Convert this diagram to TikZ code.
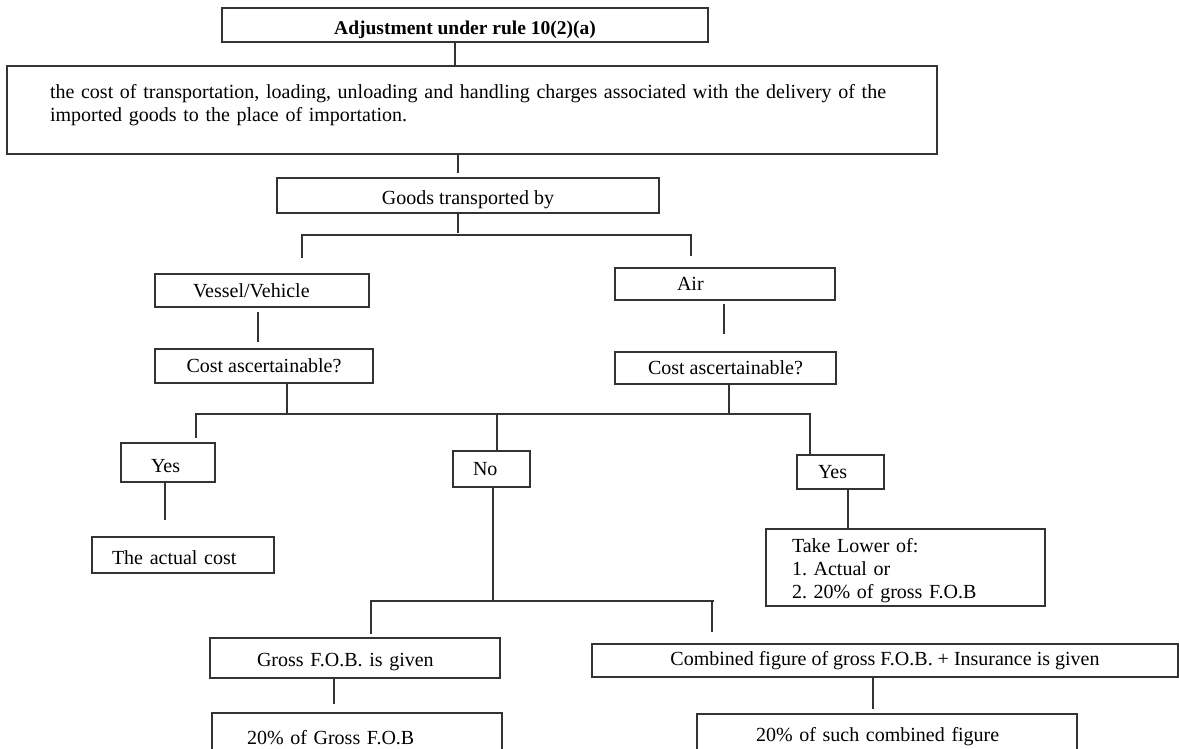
\documentclass[tikz,border=0pt]{standalone}
\usepackage{fontspec}
\setmainfont{Liberation Serif}
\usetikzlibrary{calc}
\frenchspacing

\begin{document}
\begin{tikzpicture}[x=1pt,y=-1pt,
    box/.style={draw=black!80,line width=1.5pt,inner ysep=0pt,font=\fontsize{20}{23}\selectfont},
    lbox/.style={box,align=left},
    wire/.style={draw=black!80,line width=1.5pt}]
    \clip (0,0) rectangle (1179,749);

    % top of the chart
    \node[box,minimum width=486,minimum height=34,text height=24pt,font=\fontsize{19.5}{23}\selectfont\bfseries] (title) at (465,25) {Adjustment under rule 10(2)(a)};
    \node[lbox,inner xsep=43pt,text width=844pt,minimum height=88] (desc) at (472,110)
        {\mbox{the cost of transportation, loading, unloading and handling charges associated with the delivery of the}\\
         imported goods to the place of importation.\par\kern10pt};
    \node[box,minimum width=382,minimum height=35,text height=21.5pt] (goods) at (468,195.5) {Goods transported by};

    % two ways of transport
    \node[lbox,inner xsep=38pt,text width=138pt,minimum height=33] (vessel) at (262,290.5) {Vessel/Vehicle};
    \node[box,minimum width=218,minimum height=34] (costv) at (264,366) {Cost ascertainable?};
    \node[lbox,inner xsep=62pt,text width=96pt,minimum height=32] (air) at (725,284) {Air};
    \node[box,minimum width=221,minimum height=32] (costa) at (725.5,368) {Cost ascertainable?};

    % answers
    \node[lbox,inner xsep=30pt,text width=34pt,minimum height=39,text height=19.5pt] (yesv) at (168,462.5) {Yes};
    \node[lbox,inner xsep=20pt,text width=37pt,minimum height=36] (no) at (491.5,469) {No};
    \node[lbox,inner xsep=21pt,text width=45pt,minimum height=34] (yesa) at (840.5,472) {Yes};
    \node[lbox,inner xsep=20pt,text width=142pt,minimum height=36,text height=19.5pt] (actual) at (183,555) {The actual cost};
    \node[lbox,inner xsep=26pt,text width=227pt,minimum height=77,text height=19.5pt] (lower) at (905.5,567.5)
        {Take Lower of:\\ 1. Actual or\\ 2. 20\% of gross F.O.B};

    % when cost is not known
    \node[lbox,inner xsep=47pt,text width=196pt,minimum height=40,text height=21.5pt] (gross) at (355,658) {Gross F.O.B. is given};
    \node[lbox,inner xsep=35pt,text width=220pt,minimum height=50] (grossp) at (357,738) {20\% of Gross F.O.B};
    \node[box,minimum width=586,minimum height=33] (comb) at (885,660.5) {Combined figure of gross F.O.B. + Insurance is given};
    \node[lbox,inner xsep=59pt,text width=262pt,minimum height=46] (combp) at (887,737) {20\% of such combined figure};

    % bus lines
    \coordinate (busa) at (458,235);
    \coordinate (busal) at (302,258);
    \coordinate (busar) at (691,256);
    \coordinate (busb) at (287,414);
    \coordinate (busbl) at (196,438);
    \coordinate (busbr) at (810,414);
    \coordinate (busc) at (493,601);
    \coordinate (buscl) at (371,634);
    \coordinate (buscr) at (712,632);

    \draw[wire] ([xshift=-10pt]title.south) -- ([xshift=-10pt]title.south |- desc.north);
    \draw[wire,shorten >=4pt] ([xshift=-14pt]desc.south) -- ([xshift=-14pt]desc.south |- goods.north);
    \draw[wire] (goods.south -| busa) -- ([yshift=2pt]busa);
    \draw[wire] (busal) -- (busal |- busa) -- (busar |- busa) -- (busar);

    \draw[wire,shorten <=4pt,shorten >=6pt] ([xshift=-4pt]vessel.south) -- ([xshift=-4pt]vessel.south |- costv.north);
    \draw[wire,shorten <=3pt,shorten >=17pt] ([xshift=-1pt]air.south) -- ([xshift=-1pt]air.south |- costa.north);
    \draw[wire] (costv.south -| busb) -- (busb);
    \draw[wire] (costa.south -| 729,0) -- (729,414);
    \draw[wire] (busbl) -- (busbl |- busb) -- (busbr) -- (busbr |- yesa.north);
    \draw[wire] ([xshift=5.5pt]no.north) -- ([xshift=5.5pt]no.north |- busb);

    \draw[wire,shorten >=16pt] ([xshift=-3pt]yesv.south) -- ([xshift=-3pt]yesv.south |- actual.north);
    \draw[wire] ([xshift=7.5pt]yesa.south) -- ([xshift=7.5pt]yesa.south |- lower.north);
    \draw[wire] (no.south -| busc) -- (busc);
    \draw[wire] (buscl) -- (buscl |- busc) -- ([xshift=2pt]buscr |- busc);
    \draw[wire] (buscr |- busc) -- (buscr);

    \draw[wire,shorten >=8pt] ([xshift=-21pt]gross.south) -- ([xshift=-21pt]gross.south |- grossp.north);
    \draw[wire,shorten >=4pt] ([xshift=-12pt]comb.south) -- ([xshift=-12pt]comb.south |- combp.north);
\end{tikzpicture}
\end{document}
